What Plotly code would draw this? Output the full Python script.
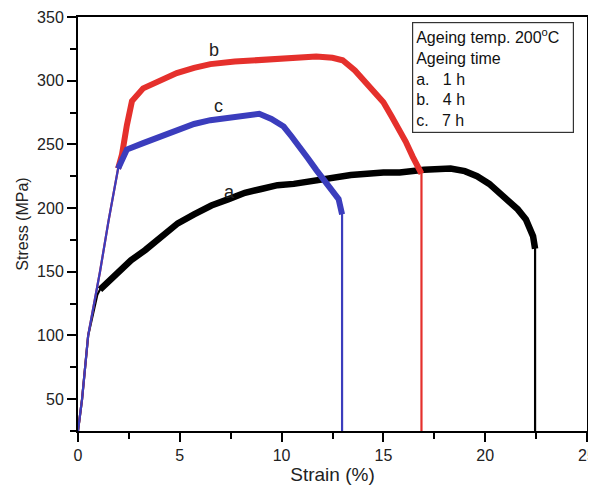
import plotly.graph_objects as go

# Curve a: 1 h ageing (black)
a_strain = [0.0, 0.2, 0.5, 0.95, 1.08, 1.62, 2.06, 2.6, 3.3, 4.1, 4.9, 5.7, 6.55, 7.4, 8.2, 9.0, 9.8, 10.6, 11.45, 12.5, 13.4, 15.0, 15.8, 17.0, 18.3, 19.0, 19.6, 20.2, 20.7, 21.2, 21.6, 22.0, 22.35, 22.45, 22.45]
a_stress = [25, 50, 100, 132, 136, 144, 152, 159, 167, 178, 188, 195, 202, 207, 212, 215, 218, 219, 221, 224, 226, 228, 228, 230, 231, 229, 225, 219, 212, 205, 199, 191, 178, 168, 25]

# Curve b: 4 h ageing (red)
b_strain = [0.0, 0.2, 0.5, 1.08, 1.5, 1.97, 2.16, 2.4, 2.65, 3.2, 4.0, 4.85, 5.7, 6.5, 7.7, 8.9, 10.1, 11.7, 12.5, 13.0, 13.6, 14.2, 14.6, 15.0, 15.4, 15.8, 16.1, 16.45, 16.7, 16.87, 16.87]
b_stress = [25, 50, 100, 150, 190, 231, 242, 265, 284, 294, 300, 306, 310, 313, 315, 316, 318, 319, 318, 316, 308, 298, 291, 283, 272, 261, 252, 240, 233, 227, 25]

# Curve c: 7 h ageing (blue)
c_strain = [0.0, 0.2, 0.5, 1.08, 1.5, 1.97, 2.2, 2.4, 3.2, 4.0, 4.85, 5.7, 6.5, 7.7, 8.5, 8.9, 9.5, 10.1, 10.5, 10.9, 11.3, 11.7, 12.1, 12.4, 12.8, 12.97, 12.97]
c_stress = [25, 50, 100, 150, 190, 231, 240, 246, 251, 256, 261, 266, 269, 271, 273, 274, 270, 264, 256, 248, 239, 230, 222, 216, 207, 195, 25]

# Index range of the noisy plastic region of each curve
a_plastic = (4, 33)
b_plastic = (5, 29)
c_plastic = (5, 25)

x_ticks = [0, 5, 10, 15, 20, 25]
y_ticks = [50, 100, 150, 200, 250, 300, 350]

legend_lines = ["Ageing temp. 200<sup>o</sup>C", "Ageing time", "a.   1 h", "b.   4 h", "c.   7 h"]
curve_labels = ["a", "b", "c"]
label_x = [7.45, 6.7, 6.9]
label_y = [213, 324, 280]

RED = "#e5302c"
BLUE = "#3b3dbd"
BLACK = "#000000"

fig = go.Figure()
for xs, ys, rng, col, band in [
    (a_strain, a_stress, a_plastic, BLACK, 6.5),
    (b_strain, b_stress, b_plastic, RED, 6),
    (c_strain, c_stress, c_plastic, BLUE, 6),
]:
    fig.add_trace(go.Scatter(x=xs, y=ys, mode="lines",
                             line=dict(color=col, width=2.2), hoverinfo="skip"))
    fig.add_trace(go.Scatter(x=xs[rng[0]:rng[1] + 1], y=ys[rng[0]:rng[1] + 1], mode="lines",
                             line=dict(color=col, width=band), hoverinfo="skip"))

for t, lx, ly in zip(curve_labels, label_x, label_y):
    fig.add_annotation(x=lx, y=ly, text=t, showarrow=False,
                       font=dict(size=18, color="#222"), xref="x", yref="y")

fig.add_annotation(xref="paper", yref="paper", x=0.656, y=0.988, xanchor="left", yanchor="top",
                   text="<br>".join(legend_lines), align="left", showarrow=False, width=154,
                   font=dict(size=16, color="#111"),
                   bordercolor="#333", borderwidth=1.2, borderpad=3, bgcolor="white")

axis_common = dict(showline=True, linecolor="black", linewidth=2, mirror=True,
                   ticks="outside", tickcolor="black", tickwidth=2, ticklen=9,
                   showgrid=False, zeroline=False, automargin=False, ticklabeloverflow="allow",
                   tickfont=dict(family="Liberation Sans, Arial", size=16, color="#222"))

fig.update_xaxes(range=[0, 25], tickvals=x_ticks,
                 minor=dict(dtick=2.5, tick0=0, ticks="outside", ticklen=6, tickwidth=2, tickcolor="black"),
                 title=dict(text="Strain (%)", font=dict(family="Liberation Sans, Arial", size=19, color="#222"), standoff=4),
                 **axis_common)
fig.update_yaxes(range=[25, 350], tickvals=y_ticks,
                 minor=dict(dtick=25, tick0=0, ticks="outside", ticklen=6, tickwidth=2, tickcolor="black"),
                 title=dict(text="Stress (MPa)", font=dict(family="Liberation Sans, Arial", size=16, color="#222"), standoff=4),
                 **axis_common)

fig.update_layout(width=588, height=489, margin=dict(l=70, r=9, t=9, b=66, autoexpand=False),
                  plot_bgcolor="white", paper_bgcolor="white", showlegend=False,
                  font=dict(family="Liberation Sans, Arial"))

fig.write_html("out.html")
